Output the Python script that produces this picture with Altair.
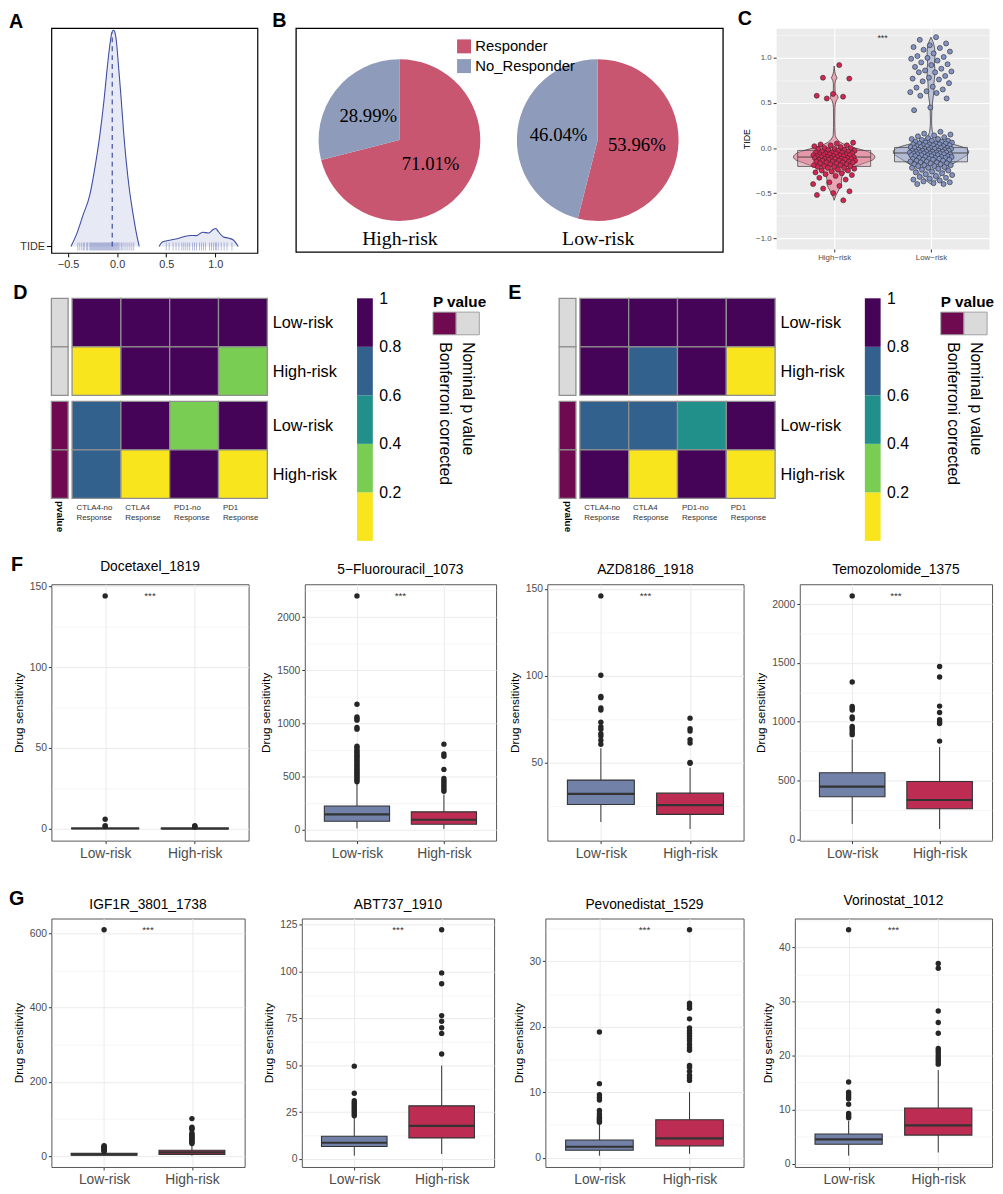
import json
import altair as alt
import pandas as pd

FONT = "Liberation Sans"
SERIF = "Liberation Serif"

# ---------------- Panel A : TIDE ridge density ----------------
A_MAIN_X = [-0.471, -0.414, -0.346, -0.279, -0.229, -0.178, -0.134, -0.101, -0.074, -0.054, -0.040,
            -0.027, -0.007, 0.013, 0.040, 0.067, 0.094, 0.124, 0.158, 0.192, 0.225]
A_MAIN_H = [0.0, 0.056, 0.147, 0.237, 0.358, 0.509, 0.675, 0.826, 0.932, 0.989, 1.0,
            0.995, 0.947, 0.841, 0.690, 0.524, 0.388, 0.267, 0.162, 0.071, 0.0]
A_BUMP_X = [0.427, 0.461, 0.545, 0.612, 0.696, 0.746, 0.807, 0.871, 0.931, 0.975, 1.005,
            1.032, 1.083, 1.133, 1.184, 1.234]
A_BUMP_H = [0.0, 0.021, 0.030, 0.036, 0.047, 0.051, 0.050, 0.066, 0.062, 0.077, 0.083,
            0.068, 0.044, 0.039, 0.030, 0.0]
A_MEDIAN = -0.05
A_RUG = [-0.40, -0.38, -0.36, -0.345, -0.33, -0.31, -0.30, -0.285, -0.27, -0.26, -0.25, -0.24,
         -0.23, -0.22, -0.21, -0.20, -0.19, -0.18, -0.17, -0.16, -0.15, -0.14, -0.13, -0.12,
         -0.11, -0.10, -0.09, -0.08, -0.07, -0.06, -0.05, -0.04, -0.03, -0.02, -0.01, 0.00,
         0.01, 0.02, 0.04, 0.05, 0.07, 0.09, 0.11, 0.13, 0.15, 0.17,
         0.50, 0.53, 0.57, 0.60, 0.63, 0.66, 0.68, 0.70, 0.72, 0.74, 0.77, 0.79, 0.81, 0.84,
         0.86, 0.88, 0.90, 0.94, 0.96, 0.98, 1.00, 1.01, 1.03, 1.06, 1.09, 1.12, 1.17]

# ---------------- Panel B : pies ----------------
B_GROUPS = ["High-risk", "High-risk", "Low-risk", "Low-risk"]
B_CLASS = ["Responder", "No_Responder", "Responder", "No_Responder"]
B_PCT = [71.01, 28.99, 53.96, 46.04]
B_CLASSES = ["Responder", "No_Responder"]
B_COLORS = ["#C85670", "#8E9BBA"]

# ---------------- Panel C : violin ----------------
C_GROUPS = ["High\u2212risk", "Low\u2212risk"]
C_HIGH_TIDE = [0.92, 0.78, 0.77, 0.60, 0.58, 0.57, 0.55,
               0.06, 0.05, 0.04, 0.03, 0.03, 0.02, 0.01, 0.00, 0.00, -0.01, -0.01, -0.02, -0.02,
               -0.03, -0.03, -0.04, -0.04, -0.05, -0.05, -0.05, -0.06, -0.06, -0.06, -0.07, -0.07,
               -0.07, -0.08, -0.08, -0.08, -0.08, -0.09, -0.09, -0.09, -0.10, -0.10, -0.10, -0.10,
               -0.11, -0.11, -0.11, -0.12, -0.12, -0.12, -0.12, -0.13, -0.13, -0.13, -0.14, -0.14,
               -0.14, -0.15, -0.15, -0.15, -0.16, -0.16, -0.16, -0.17, -0.17, -0.18, -0.18, -0.19,
               -0.19, -0.20, -0.20, -0.21, -0.21, -0.22, -0.22, -0.23, -0.24, -0.25, -0.25, -0.26,
               -0.27, -0.28, -0.29, -0.30, -0.31, -0.33, -0.35, -0.38, -0.40, -0.42, -0.45, -0.48,
               -0.50, -0.52, -0.58]
C_LOW_TIDE = [1.23, 1.20, 1.16, 1.14, 1.12, 1.11, 1.09, 1.07, 1.05, 1.02, 1.01, 1.00, 0.99, 0.97,
              0.95, 0.93, 0.92, 0.90, 0.88, 0.86, 0.85, 0.84, 0.84, 0.80, 0.78, 0.77, 0.76, 0.74,
              0.72, 0.68, 0.67, 0.65, 0.63, 0.62, 0.61, 0.58, 0.55, 0.45, 0.42,
              0.18, 0.16, 0.15, 0.14, 0.13, 0.12, 0.11, 0.10, 0.10, 0.09, 0.08, 0.08, 0.07, 0.07,
              0.06, 0.06, 0.05, 0.05, 0.05, 0.04, 0.04, 0.04, 0.03, 0.03, 0.03, 0.02, 0.02, 0.02,
              0.01, 0.01, 0.01, 0.00, 0.00, 0.00, 0.00, -0.01, -0.01, -0.01, -0.02, -0.02, -0.02,
              -0.03, -0.03, -0.03, -0.03, -0.04, -0.04, -0.04, -0.04, -0.05, -0.05, -0.05, -0.05,
              -0.06, -0.06, -0.06, -0.06, -0.07, -0.07, -0.07, -0.07, -0.08, -0.08, -0.08, -0.08,
              -0.09, -0.09, -0.09, -0.10, -0.10, -0.10, -0.11, -0.11, -0.11, -0.12, -0.12, -0.12,
              -0.13, -0.13, -0.13, -0.14, -0.14, -0.15, -0.15, -0.16, -0.16, -0.17, -0.17, -0.18,
              -0.18, -0.19, -0.19, -0.20, -0.20, -0.21, -0.22, -0.22, -0.23, -0.24, -0.25, -0.26,
              -0.27, -0.28, -0.29, -0.30, -0.31, -0.32, -0.33, -0.34, -0.35, -0.36, -0.37, -0.38,
              -0.39, -0.40, -0.40]
C_VIO_HIGH_Y = [0.91, 0.85, 0.81, 0.78, 0.75, 0.70, 0.62, 0.58, 0.56, 0.52, 0.45, 0.30, 0.15, 0.10,
                0.06, 0.03, 0.00, -0.03, -0.06, -0.10, -0.13, -0.16, -0.19, -0.22, -0.25, -0.28,
                -0.32, -0.36, -0.40, -0.44, -0.48, -0.52, -0.58]
C_VIO_HIGH_W = [0.0, 0.006, 0.015, 0.028, 0.015, 0.008, 0.010, 0.035, 0.04, 0.02, 0.008, 0.006,
                0.01, 0.03, 0.07, 0.13, 0.22, 0.32, 0.39, 0.42, 0.40, 0.33, 0.25, 0.17, 0.13, 0.10,
                0.08, 0.075, 0.075, 0.06, 0.04, 0.02, 0.0]
C_VIO_LOW_Y = [1.23, 1.18, 1.12, 1.06, 1.00, 0.94, 0.88, 0.82, 0.76, 0.70, 0.64, 0.58, 0.50, 0.40,
               0.30, 0.20, 0.14, 0.10, 0.06, 0.03, 0.00, -0.04, -0.07, -0.10, -0.14, -0.18, -0.22,
               -0.26, -0.30, -0.34, -0.37, -0.40]
C_VIO_LOW_W = [0.0, 0.02, 0.035, 0.04, 0.04, 0.035, 0.04, 0.04, 0.035, 0.03, 0.03, 0.025, 0.015,
               0.008, 0.006, 0.012, 0.03, 0.07, 0.16, 0.27, 0.35, 0.39, 0.38, 0.34, 0.28, 0.22,
               0.17, 0.14, 0.11, 0.07, 0.04, 0.0]
C_Q1 = [-0.204, -0.153]
C_MED = [-0.10, -0.055]
C_Q3 = [-0.026, 0.007]

# ---------------- Panels D / E : heatmaps ----------------
HM_COLS = ["CTLA4-no Response", "CTLA4 Response", "PD1-no Response", "PD1 Response"]
HM_ROWS = ["Low-risk", "High-risk", "Low-risk", "High-risk"]
D_P = [[1.0, 1.0, 1.0, 1.0],
       [0.08, 1.0, 1.0, 0.29],
       [0.66, 0.99, 0.31, 0.98],
       [0.71, 0.05, 0.97, 0.12]]
E_P = [[1.0, 1.0, 1.0, 1.0],
       [1.0, 0.74, 1.0, 0.11],
       [0.69, 0.72, 0.48, 0.96],
       [0.95, 0.06, 0.98, 0.09]]
PV_NAMES = ["Bonferroni corrected", "Nominal p value"]
PV_COLORS = ["#700A50", "#DADADA"]
HM_ANNO = ["Nominal p value", "Nominal p value", "Bonferroni corrected", "Bonferroni corrected"]
VIR5 = ["#F9E51E", "#79CD52", "#21908B", "#32618D", "#450458"]
CB_BREAKS = [0.0, 0.2, 0.4, 0.6, 0.8, 1.0]

# ---------------- Panels F / G : drug sensitivity boxplots ----------------
BOX_GROUPS = ["Low-risk", "High-risk"]
BOX_COLORS = ["#7281A8", "#BD2C53"]

F_NAMES = ["Docetaxel_1819", "5\u2212Fluorouracil_1073", "AZD8186_1918", "Temozolomide_1375"]
F_WLO = [[0, 0], [10, 5], [16, 12], [130, 88]]
F_Q1 = [[0.1, 0.1], [77, 49], [26.1, 20.4], [362, 260]]
F_MED = [[0.3, 0.25], [143, 92], [32.2, 25.7], [448, 334]]
F_Q3 = [[0.6, 0.5], [221, 166], [40.1, 32.6], [566, 492]]
F_WHI = [[1.0, 0.9], [437, 330], [58.4, 47.2], [849, 785]]
F_OUT_LOW = [[144, 6, 2, 1.5],
             [2200, 1180, 1060, 1045, 1030, 960, 945, 785, 770, 750, 735, 720, 705, 690, 675,
              660, 645, 630, 615, 600, 585, 570, 555, 540, 525, 510, 495, 480, 465, 450],
             [146, 100.4, 88.2, 87.5, 81.6, 80.4, 73.4, 70.8, 69.3, 66.8, 65.5, 63, 60.7],
             [2070, 1338, 1130, 1115, 1100, 1040, 1025, 960, 945, 925, 905, 890]]
F_OUT_HIGH = [[2.0, 1.6, 1.2],
              [804, 712, 690, 566, 480, 460, 440, 420, 400, 380, 360],
              [75.7, 69.7, 68.3, 63.3, 61.4, 50.2, 49.8],
              [1470, 1380, 1133, 1078, 1017, 1000, 985, 835]]
F_TICKS = [[0, 50, 100, 150], [0, 500, 1000, 1500, 2000], [50, 100, 150], [0, 500, 1000, 1500, 2000]]
F_MINOR = [[25, 75, 125], [250, 750, 1250, 1750, 2250], [25, 75, 125], [250, 750, 1250, 1750]]
F_WIDTHS = [200, 194, 199, 195]

G_NAMES = ["IGF1R_3801_1738", "ABT737_1910", "Pevonedistat_1529", "Vorinostat_1012"]
G_WLO = [[1, 1], [1.7, 2.6], [0.3, 0.6], [1.5, 2.1]]
G_Q1 = [[2.5, 4.4], [6.6, 11.2], [1.13, 1.8], [3.6, 5.3]]
G_MED = [[4.5, 10], [8.6, 17.6], [1.67, 2.95], [4.5, 7.1]]
G_Q3 = [[7.5, 15.7], [12.1, 28.3], [2.7, 5.8], [5.5, 10.3]]
G_WHI = [[11, 32], [22.4, 49.8], [5.1, 10], [7.9, 17.3]]
G_OUT_LOW = [[610, 28, 26, 24, 22, 20, 18, 16, 14, 12],
             [49.5, 35, 31, 30, 29, 28, 27, 26, 25, 24, 23],
             [19.2, 11.3, 9.6, 9.2, 8.8, 7.2, 6.7, 6.3, 6.0, 5.8, 5.6, 5.4],
             [43.2, 15.1, 13.2, 12.8, 12.4, 12.0, 11.0, 9.3, 9.0, 8.7, 8.5]]
G_OUT_HIGH = [[101, 78, 75, 72, 62, 58, 55, 52, 49, 46, 43, 40, 37, 34],
              [122.3, 99.3, 93.5, 76.5, 73.5, 70, 67, 56],
              [34.8, 23.6, 23.2, 22.8, 21.2, 19.8, 19.4, 19.0, 18.6, 18.2, 17.8, 17.3, 16.8, 16.4,
               14.1, 13.8, 13.2, 12.6, 12.2, 11.8],
              [37, 36.1, 28.2, 26.1, 24.1, 21.3, 20.9, 20.5, 20.0, 19.6, 19.2, 18.8, 18.4]]
G_TICKS = [[0, 200, 400, 600], [0, 25, 50, 75, 100, 125], [0, 10, 20, 30], [0, 10, 20, 30, 40]]
G_MINOR = [[100, 300, 500], [12.5, 37.5, 62.5, 87.5, 112.5], [5, 15, 25, 35], [5, 15, 25, 35, 45]]
G_WIDTHS = [196, 195, 201, 200]

IND = dict(color="independent", theta="independent", radius="independent")


# ======================================================================
def letter(t, dx, offset):
    return alt.TitleParams(text=t, anchor="start", dx=dx, offset=offset,
                           fontSize=20, fontWeight="bold", color="black")


# ---------------- Panel A ----------------
a_x = alt.Scale(domain=[-0.67, 1.43], nice=False, zero=False)
a_y = alt.Scale(domain=[-0.03, 1.01], nice=False, zero=False)
a_xaxis = alt.Axis(values=[-0.5, 0, 0.5, 1.0], format=".1f", title=None, grid=False, domain=False,
                   tickColor="black", tickSize=4, labelFontSize=11, labelColor="#333333",
                   labelPadding=2, labelFlush=False)
a_yaxis = alt.Axis(values=[0], labelExpr="'TIDE'", title=None, grid=False, domain=False,
                   tickColor="black", tickSize=5, labelFontSize=11, labelColor="#333333",
                   labelPadding=2, labelFlush=False)
a_df = pd.DataFrame({"x": A_MAIN_X + A_BUMP_X, "h": A_MAIN_H + A_BUMP_H,
                     "seg": ["main"] * len(A_MAIN_X) + ["bump"] * len(A_BUMP_X)})
a_area = alt.Chart(a_df).mark_area(
    color="#DDE0F0", interpolate="monotone", line={"color": "#3F4DA0", "strokeWidth": 1.1}
).encode(
    x=alt.X("x:Q", scale=a_x, axis=a_xaxis),
    y=alt.Y("h:Q", scale=a_y, axis=a_yaxis),
    y2=alt.Y2(datum=0),
    detail="seg:N",
)
a_rug = alt.Chart(pd.DataFrame({"v": A_RUG})).mark_tick(
    orient="vertical", size=8, thickness=0.7, color="#6A76B8"
).encode(x=alt.X("v:Q", scale=a_x, axis=a_xaxis), y=alt.Y(datum=0, scale=a_y, axis=a_yaxis))
a_med = alt.Chart(pd.DataFrame({"m": [A_MEDIAN], "b": [0.0], "t": [0.99]})).mark_rule(
    color="#3F4DA0", strokeDash=[5, 4], strokeWidth=1.2
).encode(x=alt.X("m:Q", scale=a_x, axis=a_xaxis), y=alt.Y("b:Q", scale=a_y, axis=a_yaxis), y2="t:Q")
panel_a = alt.layer(a_area, a_rug, a_med).properties(
    width=209, height=228, title=letter("A", -11, -4),
    view=alt.ViewBackground(stroke="black", strokeWidth=1.2))

# ---------------- Panel B ----------------
b_df = pd.DataFrame({"group": B_GROUPS, "cls": B_CLASS, "pct": B_PCT,
                     "gi": [1, 1, 2, 2], "ord": [0, 1, 0, 1]})
b_base = alt.Chart(b_df).transform_window(
    cum="sum(pct)", groupby=["group"], sort=[alt.SortField("ord")], frame=[None, 0]
).transform_calculate(
    t0="datum.cum - datum.pct", mid="datum.cum - datum.pct / 2",
    lab="format(datum.pct, '.2f') + '%'")
b_x = alt.Scale(domain=[0.478, 2.631], nice=False, zero=False)
b_t = alt.Scale(domain=[0, 100])
b_xaxis = alt.Axis(values=[1, 2], labelExpr="datum.value == 1 ? 'High-risk' : 'Low-risk'",
                   labelFont=SERIF, labelFontSize=20, labelColor="black", ticks=False,
                   domain=False, grid=False, title=None, offset=-24, labelPadding=0,
                   labelFlush=False)
b_arc = b_base.mark_arc(outerRadius=82).encode(
    x=alt.X("gi:Q", scale=b_x, axis=b_xaxis, stack=False),
    theta=alt.Theta("t0:Q", scale=b_t, stack=False),
    theta2="cum:Q",
    color=alt.Color("cls:N", scale=alt.Scale(domain=B_CLASSES, range=B_COLORS),
                    legend=alt.Legend(title=None, orient="none", legendX=163, legendY=11,
                                      symbolType="square", symbolSize=200, symbolStrokeWidth=0,
                                      labelFontSize=15, labelColor="black", rowPadding=4)),
)
b_txt = b_base.mark_text(font=SERIF, fontSize=19, color="black").encode(
    x=alt.X("gi:Q", scale=b_x, axis=b_xaxis, stack=False),
    theta=alt.Theta("mid:Q", scale=b_t, stack=False),
    radius=alt.value(40),
    text="lab:N",
)
panel_b = alt.layer(b_arc, b_txt).properties(
    width=433, height=227, title=letter("B", -24, -3),
    view=alt.ViewBackground(stroke="black", strokeWidth=1.3, fill="white"))

# ---------------- Panel C ----------------
c_x = alt.Scale(domain=[0.4, 2.6], nice=False, zero=False)
c_y = alt.Scale(domain=[-1.12, 1.33], nice=False, zero=False)
c_test = "indexof([-1,-0.5,0,0.5,1], datum.value) >= 0"
c_yaxis = alt.Axis(values=[-1, -0.75, -0.5, -0.25, 0, 0.25, 0.5, 0.75, 1, 1.25], format=".1f",
                   labelExpr=f"{c_test} ? datum.label : ''", title="TIDE", titleFontSize=9,
                   titleFontWeight="normal", titleColor="black", titlePadding=4,
                   grid=True, gridColor="white",
                   gridWidth={"condition": {"test": c_test, "value": 1.1}, "value": 0.5},
                   tickOpacity={"condition": {"test": c_test, "value": 1}, "value": 0},
                   tickColor="#333333", tickSize=3, domain=False, labelFontSize=8,
                   labelColor="#4D4D4D", labelPadding=2, labelFlush=False, labelOverlap=False)
c_xaxis = alt.Axis(values=[1, 2], labelExpr=f"datum.value == 1 ? '{C_GROUPS[0]}' : '{C_GROUPS[1]}'",
                   title=None, grid=True, gridColor="white", gridWidth=1.1, domain=False,
                   tickColor="#333333", tickSize=3, labelFontSize=8, labelColor="#4D4D4D",
                   labelPadding=2, labelFlush=False)
vio_df = pd.DataFrame({
    "grp": [C_GROUPS[0]] * len(C_VIO_HIGH_Y) + [C_GROUPS[1]] * len(C_VIO_LOW_Y),
    "gi": [1] * len(C_VIO_HIGH_Y) + [2] * len(C_VIO_LOW_Y),
    "y": C_VIO_HIGH_Y + C_VIO_LOW_Y, "w": C_VIO_HIGH_W + C_VIO_LOW_W})
c_vio = alt.Chart(vio_df).transform_calculate(
    xl="datum.gi - datum.w", xr="datum.gi + datum.w"
).mark_area(orient="horizontal", interpolate="monotone", stroke="#2B2B2B", strokeWidth=0.7).encode(
    y=alt.Y("y:Q", scale=c_y, axis=c_yaxis),
    x=alt.X("xl:Q", scale=c_x, axis=c_xaxis),
    x2="xr:Q",
    color=alt.Color("grp:N", scale=alt.Scale(domain=C_GROUPS, range=["#EAA5B4", "#BDC4DA"]), legend=None),
    detail="grp:N",
)
cbox_df = pd.DataFrame({"grp": C_GROUPS, "gi": [1, 2], "q1": C_Q1, "med": C_MED, "q3": C_Q3})
c_boxbase = alt.Chart(cbox_df).transform_calculate(xl="datum.gi - 0.377", xr="datum.gi + 0.377")
c_box = c_boxbase.mark_rect(stroke="#3A3A3A", strokeWidth=0.7, fillOpacity=0.45).encode(
    x=alt.X("xl:Q", scale=c_x, axis=c_xaxis), x2="xr:Q",
    y=alt.Y("q1:Q", scale=c_y, axis=c_yaxis), y2="q3:Q",
    color=alt.Color("grp:N", scale=alt.Scale(domain=C_GROUPS, range=["#E0899C", "#A6B0CC"]), legend=None),
)
c_med = c_boxbase.mark_rule(color="#3A3A3A", strokeWidth=0.9).encode(
    x=alt.X("xl:Q", scale=c_x, axis=c_xaxis), x2="xr:Q", y=alt.Y("med:Q", scale=c_y, axis=c_yaxis))
pts_df = pd.DataFrame({
    "grp": [C_GROUPS[0]] * len(C_HIGH_TIDE) + [C_GROUPS[1]] * len(C_LOW_TIDE),
    "gi": [1] * len(C_HIGH_TIDE) + [2] * len(C_LOW_TIDE),
    "v": C_HIGH_TIDE + C_LOW_TIDE})
c_pts = alt.Chart(pts_df).transform_window(rn="row_number()", groupby=["grp"]).transform_calculate(
    jx="datum.gi + ((datum.rn * 0.6180339887) % 1 - 0.5) * 0.44"
).mark_circle(size=26, stroke="#2A2A2A", strokeWidth=0.6, opacity=1).encode(
    x=alt.X("jx:Q", scale=c_x, axis=c_xaxis),
    y=alt.Y("v:Q", scale=c_y, axis=c_yaxis),
    color=alt.Color("grp:N", scale=alt.Scale(domain=C_GROUPS, range=["#D52452", "#8292C2"]), legend=None),
)
c_star = alt.Chart(pd.DataFrame({"s": ["***"], "x": [1.5], "y": [1.22]})).mark_text(
    fontSize=9, color="#333333").encode(
    x=alt.X("x:Q", scale=c_x, axis=c_xaxis), y=alt.Y("y:Q", scale=c_y, axis=c_yaxis), text="s:N")
panel_c = alt.layer(c_vio, c_box, c_med, c_pts, c_star).resolve_scale(color="independent").properties(
    width=216, height=224, title=letter("C", -5, -1),
    view=alt.ViewBackground(fill="#EBEBEB", stroke="transparent"))

# ---------------- Panels D / E ----------------
BG = 0.122   # gap between heatmap blocks (in row units)
AW = 0.343   # width of annotation column (in column units)
AG = 0.081   # gap between annotation column and heatmap


def heatmap(pvals, letter_txt, dx):
    recs = [{"r": r, "c": c, "p": pvals[r][c]} for r in range(4) for c in range(4)]
    cells = pd.DataFrame(recs)
    anno = pd.DataFrame({"r": list(range(4)), "anno": HM_ANNO})
    xs = alt.Scale(domain=[-(AW + AG), 4], nice=False, zero=False)
    ys = alt.Scale(domain=[0, 4 + BG], nice=False, zero=False, reverse=True)
    ycalc = f"datum.r + (datum.r >= 2 ? {BG} : 0)"
    parts = [c.split(" ") for c in HM_COLS]
    col_expr = ("datum.value < 1 ? {0} : datum.value < 2 ? {1} : datum.value < 3 ? {2} : {3}"
                .format(*[json.dumps(p).replace('"', "'") for p in parts]))
    row_vals = [0.5, 1.5, 2.5 + BG, 3.5 + BG]
    row_expr = (f"datum.value < 1 ? '{HM_ROWS[0]}' : datum.value < 2 ? '{HM_ROWS[1]}' : "
                f"datum.value < 3 ? '{HM_ROWS[2]}' : '{HM_ROWS[3]}'")
    xaxis = alt.Axis(values=[0.08, 1.08, 2.08, 3.08], labelExpr=col_expr,
                     labelAlign="left", labelBaseline="top", labelFontSize=8,
                     labelColor="#333333", labelLineHeight=10, labelPadding=5,
                     ticks=False, domain=False, grid=False, title=None,
                     labelFlush=False, labelOverlap=False)
    yaxis = alt.Axis(orient="right", values=row_vals, labelExpr=row_expr,
                     labelFontSize=16.5, labelColor="black", labelPadding=5,
                     ticks=False, domain=False, grid=False, title=None,
                     labelFlush=False, labelOverlap=False)
    cell = alt.Chart(cells).transform_calculate(
        y0=ycalc, y1=f"{ycalc} + 1", x1="datum.c + 1"
    ).mark_rect(stroke="#8F8F8F", strokeWidth=1.3).encode(
        x=alt.X("c:Q", scale=xs, axis=xaxis),
        x2="x1:Q",
        y=alt.Y("y0:Q", scale=ys, axis=yaxis),
        y2="y1:Q",
        color=alt.Color("p:Q", scale=alt.Scale(type="threshold", domain=[0.2, 0.4, 0.6, 0.8], range=VIR5),
                        legend=None),
    )
    ann = alt.Chart(anno).transform_calculate(
        y0=ycalc, y1=f"{ycalc} + 1"
    ).mark_rect(stroke="#8F8F8F", strokeWidth=1.3).encode(
        x=alt.X(datum=-(AW + AG), scale=xs, axis=xaxis),
        x2=alt.X2(datum=-AG),
        y=alt.Y("y0:Q", scale=ys, axis=yaxis),
        y2="y1:Q",
        color=alt.Color("anno:N", scale=alt.Scale(domain=PV_NAMES, range=PV_COLORS), legend=None),
    )
    ptxt = alt.Chart(pd.DataFrame({"t": ["pvalue"]})).mark_text(
        angle=90, align="left", baseline="middle", fontSize=10, fontWeight="bold", color="black"
    ).encode(
        x=alt.X(datum=-(AW / 2 + AG), scale=xs, axis=xaxis),
        y=alt.Y(datum=4 + BG + 0.05, scale=ys, axis=yaxis),
        text="t:N",
    )
    return alt.layer(cell, ann, ptxt).resolve_scale(color="independent").properties(
        width=219, height=203, title=letter(letter_txt, dx, -5))


def colorbar():
    df = pd.DataFrame({"lo": CB_BREAKS[:-1], "hi": CB_BREAKS[1:]})
    return alt.Chart(df).transform_calculate(mid="(datum.lo + datum.hi) / 2").mark_rect().encode(
        x=alt.X(datum=0, scale=alt.Scale(domain=[-31 / 16, 1], nice=False, zero=False), axis=None),
        x2=alt.X2(datum=1),
        y=alt.Y("lo:Q", scale=alt.Scale(domain=[0, 1], nice=False, zero=False),
                axis=alt.Axis(orient="right", values=[0.2, 0.4, 0.6, 0.8, 1.0], format=".1~f",
                              labelFontSize=16, labelColor="black", labelPadding=6, ticks=False,
                              domain=False, grid=False, title=None, labelFlush=False,
                              labelOverlap=False)),
        y2="hi:Q",
        color=alt.Color("mid:Q", scale=alt.Scale(type="threshold", domain=[0.2, 0.4, 0.6, 0.8], range=VIR5),
                        legend=None),
    ).properties(width=47, height=246)


def pleg(width):
    df = pd.DataFrame({"k": [0, 1], "name": PV_NAMES})
    left = -0.5 - 1 / 23.5
    right = left + width / 23.5
    return alt.Chart(df).transform_calculate(x0="datum.k - 0.5", x1="datum.k + 0.5").mark_rect(
        stroke="#A0A0A0", strokeWidth=1
    ).encode(
        x=alt.X("x0:Q", scale=alt.Scale(domain=[left, right], nice=False, zero=False),
                axis=alt.Axis(values=[0, 1],
                              labelExpr=f"datum.value < 0.5 ? '{PV_NAMES[0]}' : '{PV_NAMES[1]}'",
                              labelAngle=90, labelAlign="left", labelBaseline="middle",
                              labelFontSize=16, labelColor="black", labelPadding=7, ticks=False,
                              domain=False, grid=False, title=None, labelFlush=False,
                              labelOverlap=False)),
        x2="x1:Q",
        y=alt.Y(datum=0, scale=alt.Scale(domain=[0, 37 / 23], nice=False, zero=False), axis=None),
        y2=alt.Y2(datum=1),
        color=alt.Color("name:N", scale=alt.Scale(domain=PV_NAMES, range=PV_COLORS), legend=None),
    ).properties(width=width, height=37,
                 title=alt.TitleParams(text="P value", anchor="start", frame="group", dx=1,
                                       offset=-12, fontSize=15.5, fontWeight="bold", color="black"))


# ---------------- Panels F / G ----------------
def box_panel(name, wlo, q1, med, q3, whi, out_lo, out_hi, ticks, minor, w, h):
    allv = out_lo + out_hi + whi + wlo
    lo, hi = min(wlo), max(allv)
    pad = 0.05 * (hi - lo)
    ys = alt.Scale(domain=[lo - pad, hi + pad], nice=False, zero=False)
    xs = alt.Scale(domain=[0.4, 2.6], nice=False, zero=False)
    test = "indexof(%s, datum.value) >= 0" % json.dumps(ticks)
    yaxis = alt.Axis(values=sorted(ticks + minor), format="d", labelExpr=f"{test} ? datum.label : ''",
                     title="Drug sensitivity", titleFontSize=12, titleFontWeight="normal",
                     titleColor="black", titlePadding=4, grid=True, gridColor="#EBEBEB",
                     gridWidth={"condition": {"test": test, "value": 1}, "value": 0.5},
                     tickOpacity={"condition": {"test": test, "value": 1}, "value": 0},
                     tickColor="#333333", tickSize=3, labelFontSize=10.5, labelColor="#4D4D4D",
                     labelPadding=2, domain=False, labelFlush=False, labelOverlap=False)
    xaxis = alt.Axis(values=[1, 2],
                     labelExpr=f"datum.value == 1 ? '{BOX_GROUPS[0]}' : '{BOX_GROUPS[1]}'",
                     title=None, grid=True, gridColor="#EBEBEB", gridWidth=1, domain=False,
                     tickColor="#333333", tickSize=3, labelFontSize=14, labelColor="#4D4D4D",
                     labelPadding=3, labelFlush=False)
    st = pd.DataFrame({"gi": [1, 2], "grp": BOX_GROUPS, "wlo": wlo, "q1": q1, "med": med,
                       "q3": q3, "whi": whi})
    out = pd.DataFrame({"gi": [1] * len(out_lo) + [2] * len(out_hi), "v": out_lo + out_hi})
    base = alt.Chart(st).transform_calculate(xl="datum.gi - 0.375", xr="datum.gi + 0.375")
    whisk = base.mark_rule(color="#333333", strokeWidth=1).encode(
        x=alt.X("gi:Q", scale=xs, axis=xaxis), y=alt.Y("wlo:Q", scale=ys, axis=yaxis), y2="whi:Q")
    box = base.mark_rect(stroke="#333333", strokeWidth=1.1).encode(
        x=alt.X("xl:Q", scale=xs, axis=xaxis), x2="xr:Q",
        y=alt.Y("q1:Q", scale=ys, axis=yaxis), y2="q3:Q",
        color=alt.Color("grp:N", scale=alt.Scale(domain=BOX_GROUPS, range=BOX_COLORS), legend=None))
    medl = base.mark_rule(color="#333333", strokeWidth=2.2).encode(
        x=alt.X("xl:Q", scale=xs, axis=xaxis), x2="xr:Q", y=alt.Y("med:Q", scale=ys, axis=yaxis))
    pts = alt.Chart(out).mark_circle(size=30, color="#262626", opacity=1).encode(
        x=alt.X("gi:Q", scale=xs, axis=xaxis), y=alt.Y("v:Q", scale=ys, axis=yaxis))
    star = alt.Chart(pd.DataFrame({"s": ["***"], "x": [1.5], "y": [hi]})).mark_text(
        fontSize=10, color="#333333").encode(
        x=alt.X("x:Q", scale=xs, axis=xaxis), y=alt.Y("y:Q", scale=ys, axis=yaxis), text="s:N")
    return alt.layer(whisk, box, medl, pts, star).properties(
        width=w, height=h,
        title=alt.TitleParams(text=name, anchor="middle", frame="group", offset=7,
                              fontSize=14, fontWeight="normal", color="black"),
        view=alt.ViewBackground(stroke="#555555", strokeWidth=1))


def row_letter(t, dx):
    return alt.TitleParams(text=t, anchor="start", offset=-15, dx=dx,
                           fontSize=20, fontWeight="bold", color="black")


f_panels = [box_panel(F_NAMES[i], F_WLO[i], F_Q1[i], F_MED[i], F_Q3[i], F_WHI[i], F_OUT_LOW[i],
                      F_OUT_HIGH[i], F_TICKS[i], F_MINOR[i], F_WIDTHS[i], 260) for i in range(4)]
g_panels = [box_panel(G_NAMES[i], G_WLO[i], G_Q1[i], G_MED[i], G_Q3[i], G_WHI[i], G_OUT_LOW[i],
                      G_OUT_HIGH[i], G_TICKS[i], G_MINOR[i], G_WIDTHS[i], 252) for i in range(4)]

row1 = alt.hconcat(panel_a, panel_b, panel_c, spacing=13).resolve_scale(**IND)
row2 = alt.hconcat(heatmap(D_P, "D", -38), colorbar(), pleg(69),
                   heatmap(E_P, "E", -51), colorbar(), pleg(48),
                   spacing=60, bounds="flush").resolve_scale(**IND)
row3 = alt.hconcat(*f_panels, spacing=10).resolve_scale(**IND).properties(title=row_letter("F", -1))
row4 = alt.hconcat(*g_panels, spacing=16).resolve_scale(**IND).properties(title=row_letter("G", -3))

top = alt.concat(row1, row2, columns=1, align="none", spacing=11).resolve_scale(**IND)
mid = alt.concat(top, row3, columns=1, align="none", spacing=13).resolve_scale(**IND)
chart = alt.concat(mid, row4, columns=1, align="none", spacing=28).resolve_scale(**IND).properties(
    padding={"left": 0, "top": -8, "right": 0, "bottom": 0}
).configure(font=FONT).configure_view(stroke="transparent").configure_axis(
    labelFont=FONT, titleFont=FONT).configure_title(font=FONT)

chart.save("out.html", embed_options={"renderer": "svg", "actions": False})
